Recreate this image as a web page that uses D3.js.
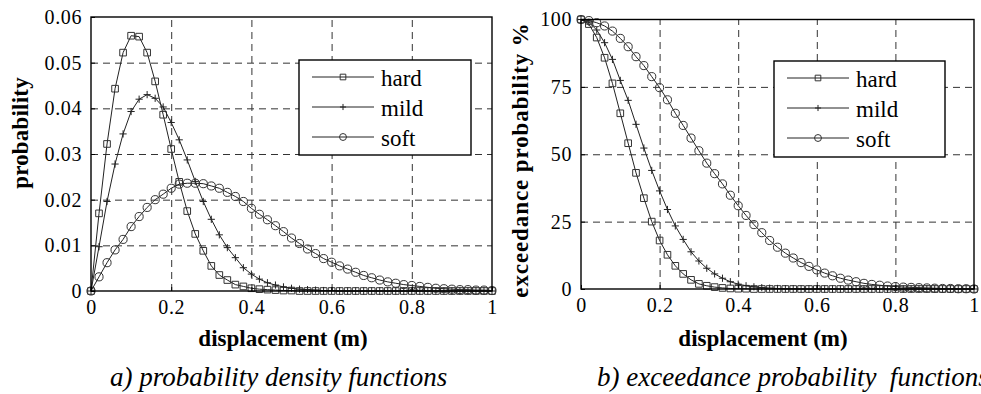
<!DOCTYPE html>
<head>
  <meta charset="utf-8">
  <script src="https://d3js.org/d3.v7.min.js"></script>
  <style>
    body { margin:0; background:#fff; }
    svg { display:block; font-family:"Liberation Serif","Times New Roman",serif; }
    svg text { font-family:"Liberation Serif","Times New Roman",serif; }
    .grid line { stroke:#333; stroke-dasharray:7,5; stroke-width:1; }
    .grid path { display:none; }
    .axis path { display:none; }
    .axis line { stroke:#000; }
    .axis text { font-size:20px; fill:#000; letter-spacing:0.6px; }
  </style>
</head>
<body>
  <div class="chart"></div>
  <script>
    // displacement grid (m), one marker every 0.02
    const displacement = [0,0.02,0.04,0.06,0.08,0.1,0.12,0.14,0.16,0.18,
      0.2,0.22,0.24,0.26,0.28,0.3,0.32,0.34,0.36,0.38,
      0.4,0.42,0.44,0.46,0.48,0.5,0.52,0.54,0.56,0.58,
      0.6,0.62,0.64,0.66,0.68,0.7,0.72,0.74,0.76,0.78,
      0.8,0.82,0.84,0.86,0.88,0.9,0.92,0.94,0.96,0.98,1];

    const seriesNames = ["hard", "mild", "soft"];

    // a) probability density
    const pdfHard = [0,0.0170,0.0322,0.0443,0.0522,0.0559,0.0557,0.0522,0.0459,0.0386,
      0.0311,0.0239,0.0175,0.0125,0.0088,0.0055,0.0035,0.0024,0.0014,0.0010,
      0.0006,0.0004,0.0003,0.0002,0.0001,0.0001,0,0,0,0,
      0,0,0,0,0,0,0,0,0,0,
      0,0,0,0,0,0,0,0,0,0,0];
    const pdfMild = [0,0.0097,0.0196,0.0278,0.0344,0.0393,0.0420,0.0430,0.0422,0.0403,
      0.0369,0.0331,0.0287,0.0240,0.0196,0.0157,0.0123,0.0095,0.0073,0.0051,
      0.0037,0.0026,0.0018,0.0013,0.0009,0.0006,0.0004,0.0003,0.0002,0.0001,
      0.0001,0,0,0,0,0,0,0,0,0,
      0,0,0,0,0,0,0,0,0,0,0];
    const pdfSoft = [0,0.0031,0.0062,0.0090,0.0113,0.0141,0.0163,0.0183,0.0200,0.0212,
      0.0225,0.0234,0.0236,0.0236,0.0235,0.0230,0.0225,0.0216,0.0207,0.0196,
      0.0181,0.0168,0.0156,0.0143,0.0130,0.0116,0.0104,0.0092,0.0082,0.0071,
      0.0063,0.0055,0.0048,0.0041,0.0034,0.0029,0.0024,0.0020,0.0017,0.0014,
      0.0012,0.0010,0.0008,0.0006,0.0005,0.0004,0.0003,0.0003,0.0002,0.0002,0.0001];

    // b) exceedance probability (%)
    const excHard = [100,98.3,93.3,85.8,76.3,65.2,54.1,43.1,33.7,25.0,
      18.0,12.7,8.6,5.6,3.4,1.9,1.2,0.7,0.4,0.2,
      0.1,0.1,0,0,0,0,0,0,0,0,
      0,0,0,0,0,0,0,0,0,0,
      0,0,0,0,0,0,0,0,0,0,0];
    const excMild = [100,99.0,96.1,91.4,85.2,77.4,70.0,61.1,52.3,44.0,
      36.4,29.5,23.4,18.4,13.8,10.4,7.7,5.6,4.0,2.7,
      1.8,1.2,0.8,0.5,0.3,0.2,0.1,0.1,0,0,
      0,0,0,0,0,0,0,0,0,0,
      0,0,0,0,0,0,0,0,0,0,0];
    const excSoft = [100,99.6,98.8,97.6,95.7,93.0,89.9,86.2,82.9,78.8,
      74.7,70.2,65.2,60.7,56.0,51.3,46.7,42.8,39.0,34.8,
      30.9,27.3,23.9,20.9,18.0,15.5,13.3,11.5,9.8,8.4,
      7.1,5.9,4.9,4.0,3.3,2.7,2.1,1.7,1.4,1.1,
      0.9,0.7,0.6,0.5,0.4,0.3,0.2,0.2,0.1,0.1,0];

    const xTicks = [0, 0.2, 0.4, 0.6, 0.8, 1];
    const xTickLabels = ["0", "0.2", "0.4", "0.6", "0.8", "1"];
    const pdfTicks = [0, 0.01, 0.02, 0.03, 0.04, 0.05, 0.06];
    const pdfTickLabels = ["0", "0.01", "0.02", "0.03", "0.04", "0.05", "0.06"];
    const excTicks = [0, 25, 50, 75, 100];
    const excTickLabels = ["0", "25", "50", "75", "100"];

    const W = 981, H = 394;
    const svg = d3.select('.chart').append('svg')
      .attr('width', W).attr('height', H);

    function drawMarker(g, name, x, y, s) {
      s = s || 1;
      if (name === 'mild') {
        const r = 3.6 * s;
        g.append('path')
          .attr('d', `M${x - r},${y}H${x + r}M${x},${y - r}V${y + r}`)
          .attr('stroke', '#222').attr('stroke-width', 1).attr('fill', 'none');
      } else {
        g.append('path')
          .attr('d', d3.symbol().type(name === 'hard' ? d3.symbolSquare : d3.symbolCircle)
            .size(name === 'hard' ? 44 * s * s : 52 * s * s)())
          .attr('transform', `translate(${x},${y})`)
          .attr('stroke', '#333').attr('stroke-width', 1).attr('fill', 'none');
      }
    }

    function panel(o) {
      const x = d3.scaleLinear().domain([0, 1]).range([o.left, o.right]);
      const y = d3.scaleLinear().domain([0, o.ymax]).range([o.bottom, o.top]);
      const g = svg.append('g');

      // dashed grid
      g.append('g').attr('class', 'grid')
        .attr('transform', `translate(0,${o.bottom})`)
        .call(d3.axisBottom(x).tickValues(xTicks.slice(1, -1))
          .tickSize(-(o.bottom - o.top)).tickFormat(''));
      g.append('g').attr('class', 'grid')
        .attr('transform', `translate(${o.left},0)`)
        .call(d3.axisLeft(y).tickValues(o.yTicks.slice(1, -1))
          .tickSize(-(o.right - o.left)).tickFormat(''));

      // curves + markers
      o.series.forEach((vals, i) => {
        const pts = vals.map((v, j) => [displacement[j], v]);
        g.append('path')
          .attr('d', d3.line().x(d => x(d[0])).y(d => y(d[1]))(pts))
          .attr('fill', 'none').attr('stroke', '#222').attr('stroke-width', 1);
        const mg = g.append('g');
        pts.forEach(d => drawMarker(mg, seriesNames[i], x(d[0]), y(d[1])));
      });

      // axes with inward ticks
      g.append('g').attr('class', 'axis')
        .attr('transform', `translate(0,${o.bottom})`)
        .call(d3.axisBottom(x).tickValues(xTicks)
          .tickFormat((d, i) => xTickLabels[i])
          .tickSizeInner(-4).tickSizeOuter(0).tickPadding(9));
      g.append('g').attr('class', 'axis')
        .attr('transform', `translate(${o.left},0)`)
        .call(d3.axisLeft(y).tickValues(o.yTicks)
          .tickFormat((d, i) => o.yLabels[i])
          .tickSizeInner(-4).tickSizeOuter(0).tickPadding(9));
      svg.selectAll('.axis').attr('font-family', null);

      // frame
      g.append('rect')
        .attr('x', o.left).attr('y', o.top)
        .attr('width', o.right - o.left).attr('height', o.bottom - o.top)
        .attr('fill', 'none').attr('stroke', '#000').attr('stroke-width', 1.4);

      // legend
      const L = o.legend;
      const lg = g.append('g');
      lg.append('rect')
        .attr('x', L.x).attr('y', L.y).attr('width', L.w).attr('height', L.h)
        .attr('fill', '#fff').attr('stroke', '#000').attr('stroke-width', 1.4);
      seriesNames.forEach((name, i) => {
        const ly = L.y + 17 + i * 30;
        lg.append('line')
          .attr('x1', L.x + 13).attr('x2', L.x + 75)
          .attr('y1', ly).attr('y2', ly)
          .attr('stroke', '#222').attr('stroke-width', 1);
        drawMarker(lg, name, L.x + 44, ly, 0.85);
        lg.append('text')
          .attr('x', L.x + 82).attr('y', ly + 9)
          .attr('font-size', 23).text(name);
      });

      // labels
      g.append('text')
        .attr('transform', `translate(${o.ylabX},${o.ylabY}) rotate(-90)`)
        .attr('text-anchor', 'middle').attr('font-weight', 'bold')
        .attr('font-size', 23).attr('letter-spacing', o.ylabSpacing)
        .text(o.ylabel);
      g.append('text')
        .attr('x', o.xlabX).attr('y', 346)
        .attr('text-anchor', 'middle').attr('font-weight', 'bold')
        .attr('font-size', 23).text('displacement (m)');
      g.append('text')
        .attr('x', o.capX).attr('y', 386)
        .attr('font-style', 'italic').attr('font-size', 27)
        .style('white-space', 'pre')
        .text(o.caption);
    }

    panel({
      left: 91, right: 492, top: 17, bottom: 291, ymax: 0.06,
      yTicks: pdfTicks, yLabels: pdfTickLabels,
      series: [pdfHard, pdfMild, pdfSoft],
      legend: { x: 299, y: 60, w: 172, h: 95 },
      ylabel: 'probability', ylabX: 28, ylabY: 133, ylabSpacing: 0.2,
      xlabX: 283, capX: 110,
      caption: 'a) probability density functions'
    });

    panel({
      left: 581, right: 974, top: 19.5, bottom: 289, ymax: 100,
      yTicks: excTicks, yLabels: excTickLabels,
      series: [excHard, excMild, excSoft],
      legend: { x: 774, y: 61, w: 171, h: 96 },
      ylabel: 'exceedance probability %', ylabX: 528, ylabY: 160, ylabSpacing: 0.9,
      xlabX: 763, capX: 597,
      caption: 'b) exceedance probability  functions'
    });
  </script>
</body>
</html>
